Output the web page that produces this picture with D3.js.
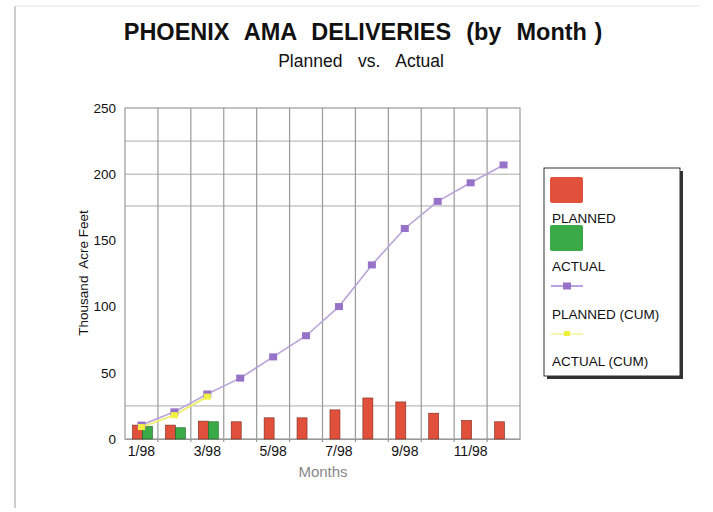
<!DOCTYPE html>
<html><head><meta charset="utf-8">
<script src="https://cdn.jsdelivr.net/npm/d3@7"></script>
<style>body{margin:0;background:#fff;}svg{display:block;font-family:"Liberation Sans",Arial,sans-serif;}text{white-space:pre;}</style>
</head><body><svg id="c" width="713" height="512"></svg>
<script>
const months = ["1/98","2/98","3/98","4/98","5/98","6/98","7/98","8/98","9/98","10/98","11/98","12/98"];
const tickLabels = ["1/98","3/98","5/98","7/98","9/98","11/98"];
const planned = [10.5,10.5,13.5,13,16,16,22,31,28,19.5,14,13];
const actual = [9.5,8.5,13,null,null,null,null,null,null,null,null,null];
const plannedCum = [10.5,20.5,34,46,62,78,100,131.5,159,179.5,193.5,207];
const actualCum = [9,18,32];
const yTicks = [0,50,100,150,200,250];
const hGrid = [225,200,176,25];

const svg = d3.select("#c");
const L=125,R=520,T=108,B=439;
const x = d3.scaleBand().domain(months).range([L,R]);
const xs = d3.scaleBand().domain(["p","a"]).range([0,20]);
const y = d3.scaleLinear().domain([0,250]).range([B,T]);
const off = (x.bandwidth()-20)/2+1;
const ink = "#111";

// outer frame
svg.append("line").attr("x1",15).attr("x2",15).attr("y1",6).attr("y2",508).attr("stroke","#bbb").attr("stroke-width",1.5);
svg.append("line").attr("x1",15).attr("x2",700).attr("y1",6).attr("y2",6).attr("stroke","#eee").attr("stroke-width",1.5);

// titles
svg.append("text").attr("x",363).attr("y",40).attr("text-anchor","middle").attr("font-size",23.5).attr("word-spacing",1).attr("font-weight","bold").attr("fill",ink).text("PHOENIX  AMA  DELIVERIES  (by  Month )");
svg.append("text").attr("x",361).attr("y",67).attr("text-anchor","middle").attr("font-size",17.5).attr("word-spacing",3).attr("fill",ink).text("Planned  vs.  Actual");

// grid
const g = svg.append("g");
g.selectAll(".hg").data(hGrid).join("line").attr("x1",L).attr("x2",R).attr("y1",d=>y(d)).attr("y2",d=>y(d)).attr("stroke","#aaa").attr("stroke-width",1);
g.selectAll(".vg").data(months.slice(1)).join("line").attr("x1",d=>x(d)).attr("x2",d=>x(d)).attr("y1",T).attr("y2",B+3).attr("stroke","#999").attr("stroke-width",1.2);
g.append("rect").attr("x",L).attr("y",T).attr("width",R-L).attr("height",B-T).attr("fill","none").attr("stroke","#999").attr("stroke-width",1.2);

// y axis
const ya = svg.append("g").attr("transform",`translate(${L},0)`).call(d3.axisLeft(y).tickValues(yTicks).tickSize(0).tickPadding(9));
ya.select(".domain").remove();
ya.selectAll("text").attr("font-size",13.5).attr("fill",ink).attr("font-family","Liberation Sans, Arial, sans-serif");
// x axis
const xa = svg.append("g").attr("transform",`translate(0,${B})`).call(d3.axisBottom(x).tickValues(tickLabels).tickSize(0).tickPadding(7));
xa.select(".domain").attr("stroke","#999");
xa.selectAll("text").attr("font-size",14).attr("fill",ink).attr("font-family","Liberation Sans, Arial, sans-serif");

svg.append("text").attr("transform","translate(88,273) rotate(-90)").attr("text-anchor","middle").attr("font-size",13.5).attr("fill",ink).text("Thousand  Acre Feet");
svg.append("text").attr("x",323).attr("y",477).attr("text-anchor","middle").attr("font-size",15).attr("fill","#888").text("Months");

// bars
const red="#e0503a", green="#3aaa48";
svg.selectAll(".bp").data(planned).join("rect").attr("x",(d,i)=>x(months[i])+off+xs("p")).attr("width",xs.bandwidth()).attr("y",d=>y(d)).attr("height",d=>B-y(d)).attr("fill",red).attr("stroke","#7a2a20").attr("stroke-width",0.6);
svg.selectAll(".ba").data(actual.map((v,i)=>({v,i})).filter(d=>d.v!=null)).join("rect").attr("x",d=>x(months[d.i])+off+xs("a")).attr("width",xs.bandwidth()).attr("y",d=>y(d.v)).attr("height",d=>B-y(d.v)).attr("fill",green).attr("stroke","#1f5a25").attr("stroke-width",0.6);

// lines
const cx = i => x(months[i])+x.bandwidth()/2;
const line = d3.line().x((d,i)=>cx(i)).y(d=>y(d));
svg.append("path").datum(actualCum).attr("d",line).attr("fill","none").attr("stroke","#eeee70").attr("stroke-width",2);
svg.append("path").datum(plannedCum).attr("d",line).attr("fill","none").attr("stroke","#b9a3d8").attr("stroke-width",1.6);
svg.selectAll(".pm").data(plannedCum).join("rect").attr("x",(d,i)=>cx(i)-4).attr("y",d=>y(d)-3.5).attr("width",8).attr("height",7).attr("fill","#9672c8");
svg.selectAll(".am").data(actualCum).join("rect").attr("x",(d,i)=>cx(i)-3.5).attr("y",d=>y(d)-3).attr("width",7).attr("height",6).attr("fill","#f2f040");

// legend
const lg = svg.append("g");
lg.append("rect").attr("x",547).attr("y",171).attr("width",136).attr("height",208).attr("fill","#333");
lg.append("rect").attr("x",544).attr("y",168).attr("width",136).attr("height",208).attr("fill","#fff").attr("stroke","#333").attr("stroke-width",1);
lg.append("rect").attr("x",550).attr("y",177).attr("width",33).attr("height",26).attr("rx",2).attr("fill",red);
lg.append("rect").attr("x",550).attr("y",225).attr("width",33).attr("height",26).attr("rx",2).attr("fill",green);
lg.append("line").attr("x1",551).attr("x2",583).attr("y1",286).attr("y2",286).attr("stroke","#a888d8").attr("stroke-width",1.6);
lg.append("rect").attr("x",563).attr("y",282.5).attr("width",8).attr("height",7).attr("fill","#9672c8");
lg.append("line").attr("x1",551).attr("x2",583).attr("y1",334).attr("y2",334).attr("stroke","#f6f6b0").attr("stroke-width",2);
lg.append("rect").attr("x",564).attr("y",331).attr("width",6).attr("height",5).attr("fill","#eeee40");
const lt=[["PLANNED",223],["ACTUAL",271],["PLANNED (CUM)",319],["ACTUAL (CUM)",366]];
lg.selectAll(".lt").data(lt).join("text").attr("x",552).attr("y",d=>d[1]).attr("font-size",13.5).attr("fill",ink).text(d=>d[0]);
</script></body></html>
